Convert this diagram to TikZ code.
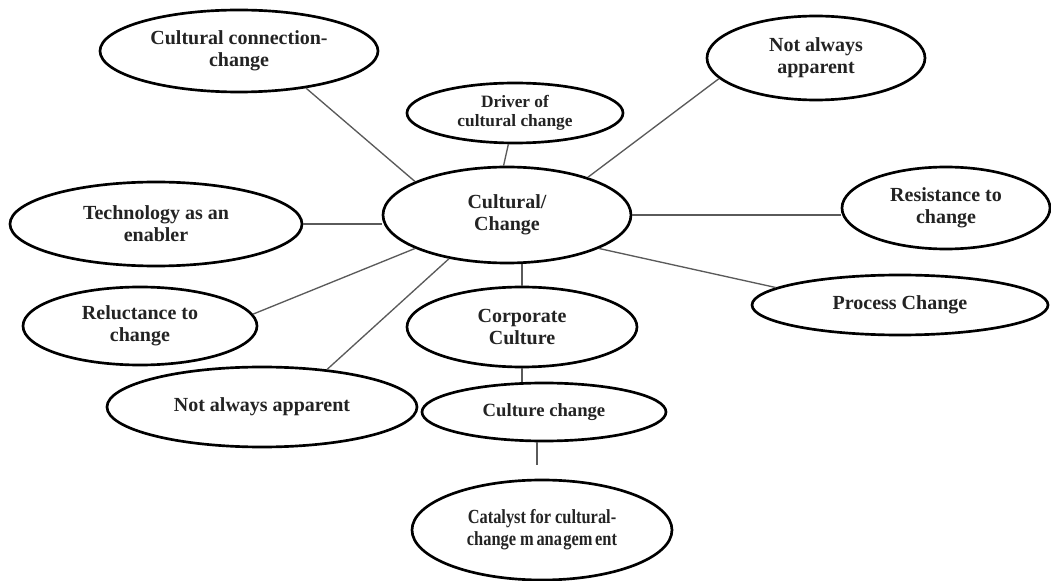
\documentclass[tikz,border=0pt]{standalone}
\usepackage{fontspec}
\setmainfont{Liberation Serif}
\newfontfamily\condfont[FakeStretch=0.82]{Liberation Serif}
\usetikzlibrary{shapes.geometric}
\definecolor{txt}{RGB}{35,35,35}
\definecolor{conn}{RGB}{90,90,90}
\begin{document}
\begin{tikzpicture}[x=0.75pt,y=-0.75pt,
  bub/.style={ellipse,draw=black,line width=2pt,inner sep=0pt,align=center,text=txt,
    font=\bfseries\fontsize{15}{16.6}\selectfont},
  link/.style={draw=conn,line width=1pt}]
\useasboundingbox (0,0) rectangle (1051,581);
\fill[white] (0,0) rectangle (1051,581);
% bubbles
\node[bub,minimum width=208.5pt,minimum height=61.5pt] (ccc) at (239,51) {Cultural connection-\\change};
\node[bub,minimum width=162pt,minimum height=45pt,font=\bfseries\fontsize{13}{14.5}\selectfont] (drv) at (515,113) {Driver of\\cultural change};
\node[bub,minimum width=163.5pt,minimum height=63pt] (nat) at (816,58) {Not always\\apparent};
\node[bub,minimum width=186pt,minimum height=72pt] (cen) at (507,215) {Cultural/\\Change};
\node[bub,minimum width=156pt,minimum height=61.5pt] (res) at (946,208) {Resistance to\\change};
\node[bub,minimum width=222pt,minimum height=45pt] (prc) at (900,305) {Process Change};
\node[bub,minimum width=219pt,minimum height=63pt] (tec) at (156,224) {Technology as an\\enabler};
\node[bub,minimum width=175.5pt,minimum height=58.5pt] (rel) at (140,326) {Reluctance to\\change};
\node[bub,minimum width=232.5pt,minimum height=60pt] (nab) at (262,407) {Not always apparent};
\node[bub,minimum width=172.5pt,minimum height=60pt] (cor) at (522,327) {Corporate\\Culture};
\node[bub,minimum width=183pt,minimum height=43.5pt,font=\bfseries\fontsize{14}{15.5}\selectfont] (cch) at (544,412) {Culture change};
\node[bub,minimum width=195pt,minimum height=75pt,font=\condfont\bfseries\fontsize{15}{16.6}\selectfont] (cat) at (542,530) {Catalyst for cultural-\\change m\kern2pt ana\kern1pt gem\kern2pt ent};
% connectors
\draw[link] (ccc.-29) -- (cen.160);
\draw[link] (drv.-102) -- (cen.94);
\draw[link] (nat.192) -- (cen.25);
\draw[link] (cen.east) -- (cen.east -| res.west);
\draw[link] (prc.172.5) -- (cen.-20);
\draw[link] (tec.east) -- (tec.east -| cen.west);
\draw[link] (rel.6) -- (cen.200);
\draw[link] (nab.30) -- (cen.217);
\draw[link] (cor.north) -- (cor.north |- cen.south);
\draw[link] (cor.south) -- (cor.south |- cch.north);
\coordinate (catend) at (537,465);
\draw[link] (catend |- cch.south) -- (catend);
\end{tikzpicture}
\end{document}
